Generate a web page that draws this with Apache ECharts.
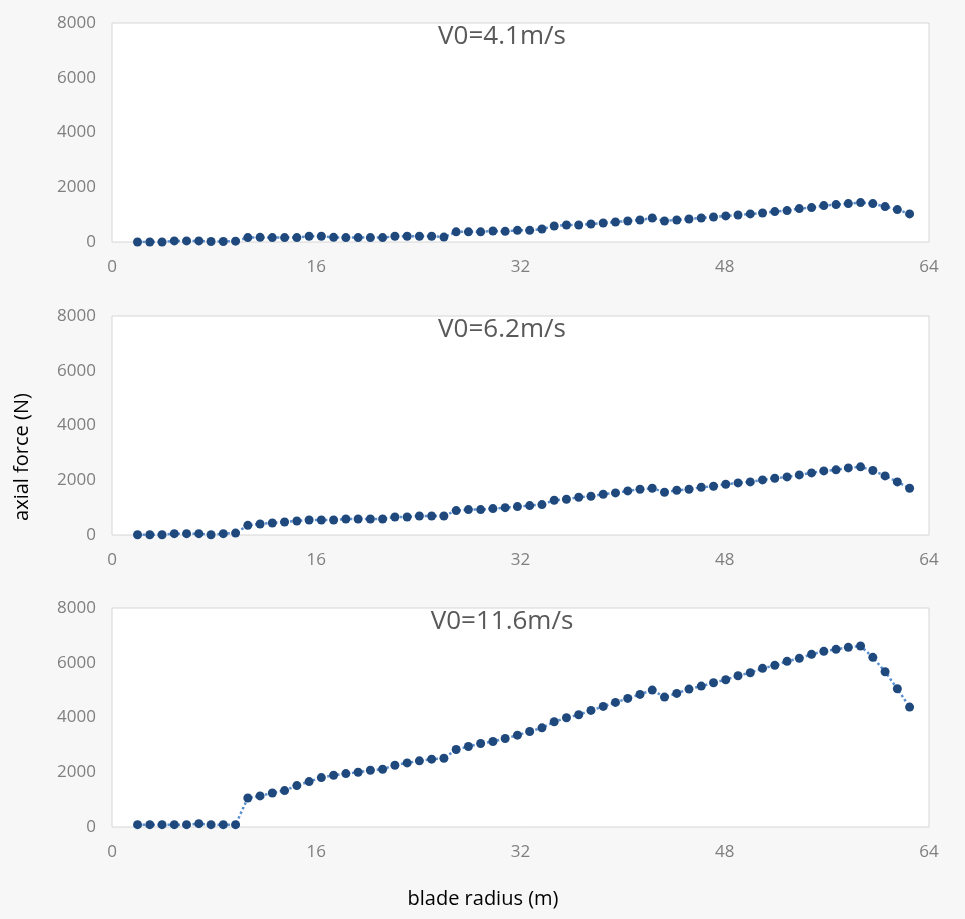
<!DOCTYPE html>
<html>
<head>
<meta charset="utf-8">
<script src="https://cdn.jsdelivr.net/npm/echarts@6/dist/echarts.min.js"></script>
<style>
html,body{margin:0;padding:0;background:#f7f7f7;}
#chart{width:965px;height:919px;}
</style>
</head>
<body>
<div id="chart"></div>
<script>
// blade radius positions (m)
var radius = [2.00,2.96,3.92,4.88,5.84,6.80,7.76,8.72,9.68,10.64,11.60,12.56,13.52,14.48,15.44,16.40,17.36,18.32,19.28,20.24,21.20,22.16,23.12,24.08,25.04,26.00,26.96,27.92,28.88,29.84,30.80,31.76,32.72,33.68,34.64,35.60,36.56,37.52,38.48,39.44,40.40,41.36,42.32,43.28,44.24,45.20,46.16,47.12,48.08,49.04,50.00,50.96,51.92,52.88,53.84,54.80,55.76,56.72,57.68,58.64,59.60,60.56,61.52,62.48];

// axial force (N) for each wind speed
var force41 = [0,0,0,40,40,40,20,20,30,160,170,160,160,160,210,210,170,160,160,160,160,210,210,210,210,180,370,370,370,400,390,427,427,476,586,622,622,659,695,732,769,805,878,769,805,842,878,915,952,988,1025,1061,1110,1147,1220,1257,1330,1366,1403,1440,1403,1293,1183,1025];
var force62 = [10,10,10,50,50,50,10,50,70,354,403,439,476,512,549,549,549,586,586,586,586,659,659,695,695,695,891,927,927,964,1000,1037,1074,1110,1269,1305,1379,1415,1488,1537,1610,1671,1708,1562,1635,1671,1745,1781,1854,1903,1940,2013,2074,2123,2196,2269,2342,2379,2452,2489,2355,2159,1940,1708];
var force116 = [85,85,85,85,85,122,85,85,85,1061,1135,1244,1330,1513,1659,1806,1891,1952,2001,2074,2111,2257,2342,2416,2477,2513,2830,2940,3050,3123,3233,3355,3489,3623,3843,3989,4099,4258,4404,4551,4697,4843,5002,4746,4880,5039,5148,5270,5380,5527,5636,5795,5905,6051,6161,6307,6417,6490,6564,6612,6198,5673,5051,4380];

var panelTitles = ['V0=4.1m/s','V0=6.2m/s','V0=11.6m/s'];
var xTicks = [0,16,32,48,64];
var yTicks = [0,2000,4000,6000,8000];
var xLabel = 'blade radius (m)';
var yLabel = 'axial force (N)';

var seriesData = [force41, force62, force116];
var gridTops = [23, 316, 608];
var font = 'Open Sans';

var grids = [], xAxes = [], yAxes = [], series = [], graphics = [];
for (var k = 0; k < 3; k++) {
  grids.push({left:112, right:36, top:gridTops[k], height:219, show:true,
    backgroundColor:'#ffffff', borderColor:'#d6d6d6', borderWidth:1});
  xAxes.push({type:'value', gridIndex:k, min:xTicks[0], max:xTicks[xTicks.length-1], interval:16,
    axisLine:{show:false}, axisTick:{show:false}, splitLine:{show:false},
    axisLabel:{color:'#7f7f7f', fontFamily:font, fontSize:17, margin:17,
      formatter:function(v){ return String(v); }}});
  yAxes.push({type:'value', gridIndex:k, min:yTicks[0], max:yTicks[yTicks.length-1], interval:2000,
    axisLine:{show:false}, axisTick:{show:false}, splitLine:{show:false},
    axisLabel:{color:'#7f7f7f', fontFamily:font, fontSize:17, margin:16,
      formatter:function(v){ return String(v); }}});
  var d = radius.map(function(r, i){ return [r, seriesData[k][i]]; });
  series.push({type:'line', xAxisIndex:k, yAxisIndex:k, data:d,
    symbol:'circle', symbolSize:9, showSymbol:true, animation:false,
    lineStyle:{type:'dotted', color:'#5b8fd0', width:2.5},
    itemStyle:{color:'#1f497d'}});
  graphics.push({type:'text', x:502, y:gridTops[k]+14,
    style:{text:panelTitles[k], fill:'#595959', font:'26px "Open Sans"', textAlign:'center', textVerticalAlign:'middle'}});
}
graphics.push({type:'text', x:483, y:899,
  style:{text:xLabel, fill:'#000000', font:'20px "Open Sans"', textAlign:'center', textVerticalAlign:'middle'}});
graphics.push({type:'text', x:22, y:457, rotation:Math.PI/2,
  style:{text:yLabel, fill:'#000000', font:'20px "Open Sans"', textAlign:'center', textVerticalAlign:'middle'}});

var chart = echarts.init(document.getElementById('chart'));
chart.setOption({
  backgroundColor:'#f7f7f7',
  animation:false,
  grid:grids, xAxis:xAxes, yAxis:yAxes, series:series, graphic:graphics
});
</script>
</body>
</html>
